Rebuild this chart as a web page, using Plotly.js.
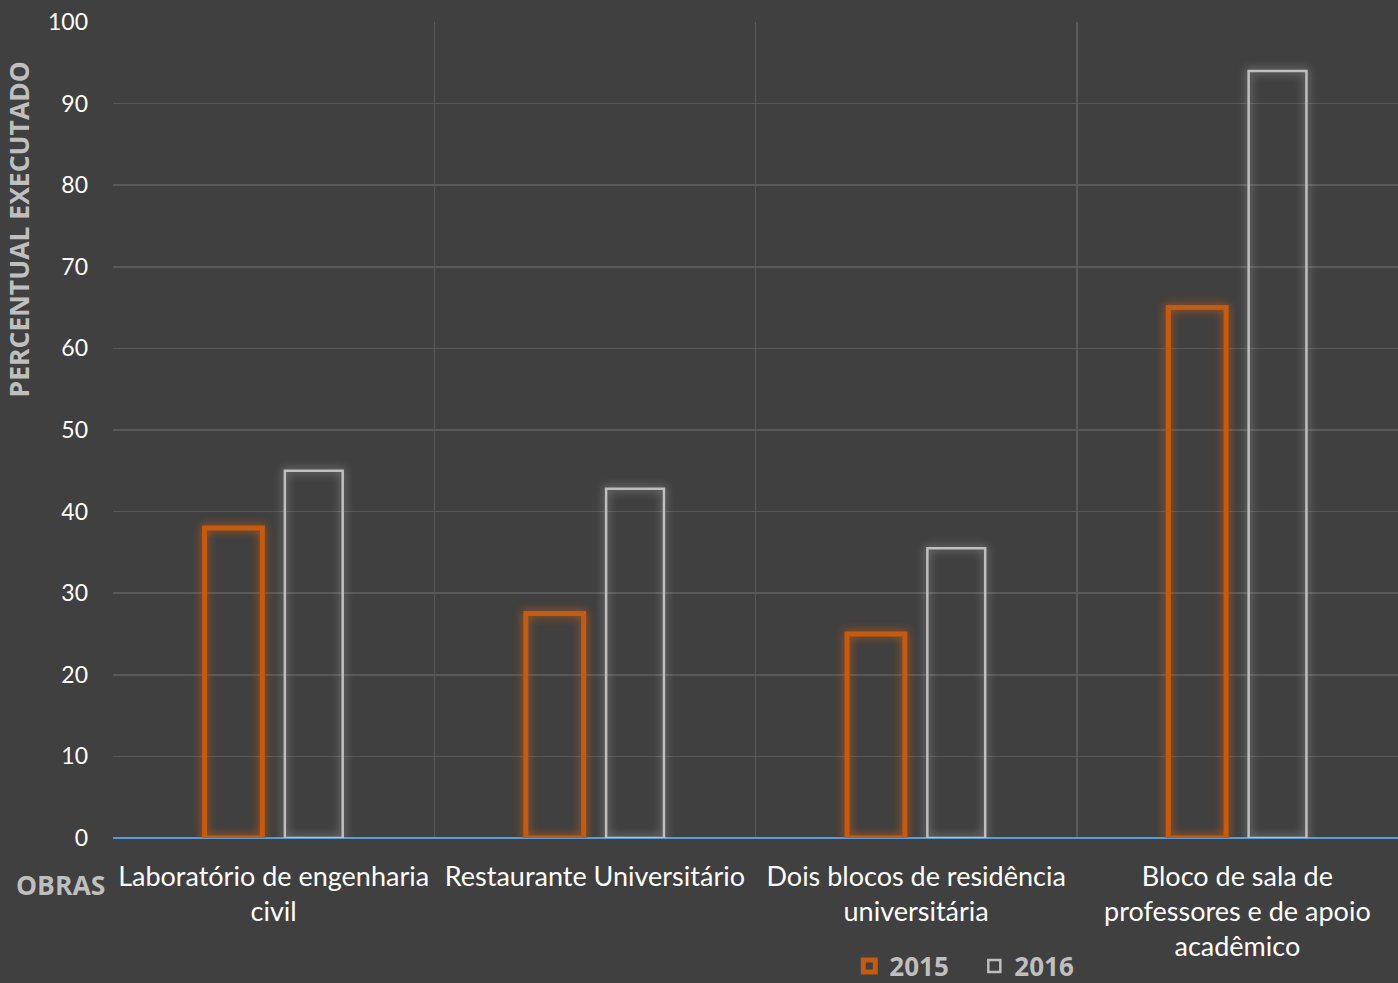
<!DOCTYPE html>
<html>
<head>
<meta charset="utf-8">
<script src="https://cdn.plot.ly/plotly-3.0.1.min.js"></script>
<style>
html,body{margin:0;padding:0;background:#404040;}
#chart{width:1398px;height:983px;}
</style>
</head>
<body>
<div id="chart"></div>
<script>
const categories = [
  "Laboratório de engenharia<br>civil",
  "Restaurante Universitário",
  "Dois blocos de residência<br>universitária",
  "Bloco de sala de<br>professores e de apoio<br>acadêmico"
];
const values2015 = [38, 27.5, 25, 65];
const values2016 = [45, 42.8, 35.5, 94];
const seriesNames = ["<b>2015</b>", "<b>2016</b>"];
const yTicks = [0, 10, 20, 30, 40, 50, 60, 70, 80, 90, 100];

const FONT = "Lato, 'Noto Sans', sans-serif";
const BFONT = "'Open Sans', 'Noto Sans', sans-serif";

const traces = [
  {
    type: "bar", name: seriesNames[0], x: categories, y: values2015,
    marker: {color: "rgba(0,0,0,0)", line: {color: "#C55A11", width: 5}},
    hoverinfo: "skip"
  },
  {
    type: "bar", name: seriesNames[1], x: categories, y: values2016,
    marker: {color: "rgba(0,0,0,0)", line: {color: "#BFBFBF", width: 2.5}},
    hoverinfo: "skip"
  }
];

const layout = {
  width: 1398, height: 983,
  paper_bgcolor: "#404040", plot_bgcolor: "#404040",
  margin: {l: 113, r: 0, t: 22, b: 145, autoexpand: false},
  barmode: "group", bargap: 0.5, bargroupgap: 0.28,
  font: {family: FONT, color: "#FFFFFF"},
  showlegend: true,
  legend: {
    orientation: "h", x: 0.573, xanchor: "left", y: -0.157, yanchor: "middle",
    font: {family: BFONT, size: 26, color: "#BFBFBF"},
    bgcolor: "rgba(0,0,0,0)", itemwidth: 30, traceorder: "normal",
    entrywidth: 80, entrywidthmode: "pixels"
  },
  xaxis: {
    type: "category",
    tickson: "boundaries", tickangle: 0,
    showgrid: true, gridcolor: "#595959", gridwidth: 1.5,
    ticks: "", ticklabelstandoff: 20,
    tickfont: {family: FONT, size: 27, color: "#FFFFFF"},
    showline: false, zeroline: false,
    fixedrange: true
  },
  yaxis: {
    range: [0, 100], tickvals: yTicks,
    showgrid: true, gridcolor: "#595959", gridwidth: 1.5,
    zeroline: true, zerolinecolor: "#5B9BD5", zerolinewidth: 1.5,
    ticks: "", ticklabelstandoff: 24,
    tickfont: {family: FONT, size: 23, color: "#FFFFFF"},
    fixedrange: true
  },
  annotations: [
    {text: "<b>OBRAS</b>", xref: "paper", yref: "paper", x: -0.041, y: -0.057,
     xanchor: "center", yanchor: "middle", showarrow: false,
     font: {family: BFONT, size: 26.5, color: "#BFBFBF"}},
    {text: "<b>PERCENTUAL EXECUTADO</b>", xref: "paper", yref: "paper",
     x: -0.073, y: 0.746, xanchor: "center", yanchor: "middle", textangle: -90,
     showarrow: false, font: {family: BFONT, size: 26.5, color: "#BFBFBF"}}
  ]
};

Plotly.newPlot("chart", traces, layout, {displayModeBar: false, staticPlot: true}).then(function(gd){
  const pts = gd.querySelectorAll(".barlayer .trace");
  pts.forEach(function(tr, i){
    const c = i === 0 ? "rgba(197,90,17,0.95)" : "rgba(191,191,191,0.8)";
    tr.querySelectorAll("path").forEach(function(p){
      p.style.filter = "drop-shadow(0 0 5px " + c + ")";
    });
  });
});
</script>
</body>
</html>
